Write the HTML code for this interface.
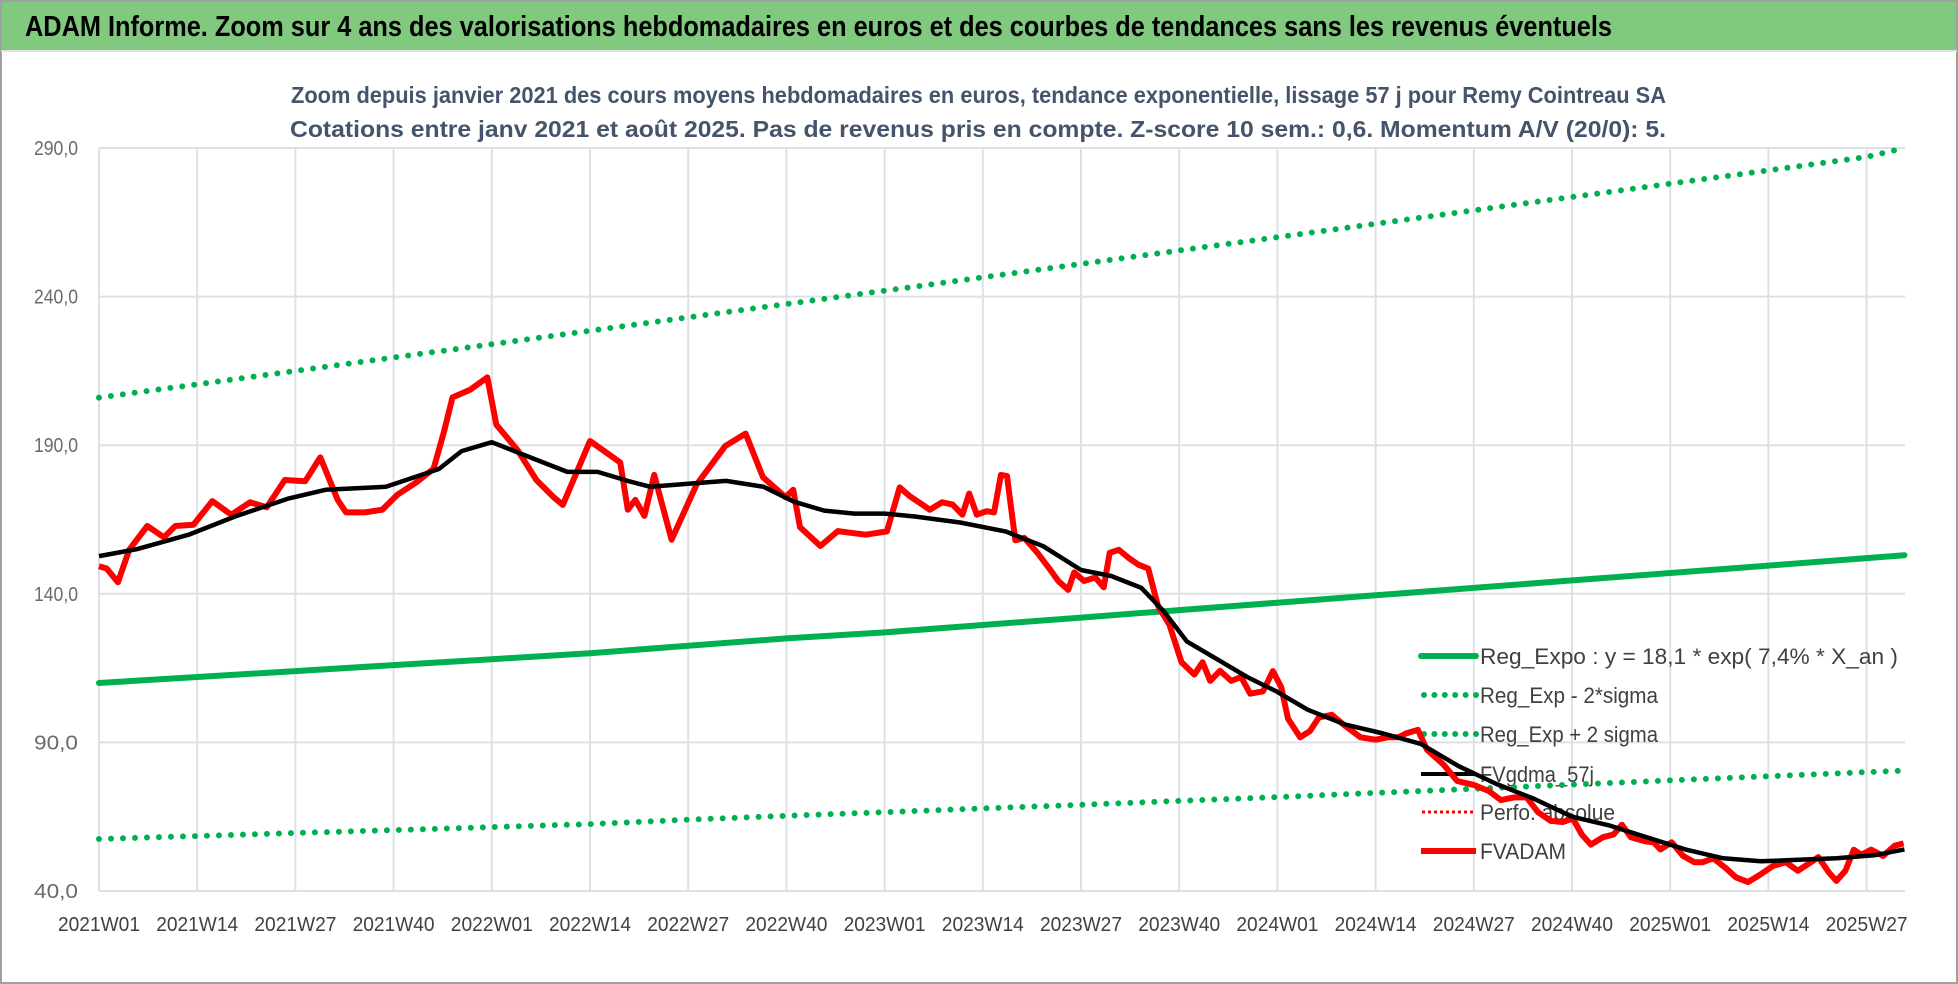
<!DOCTYPE html>
<html><head><meta charset="utf-8"><style>
html,body{margin:0;padding:0;background:#fff}
svg{display:block;font-family:"Liberation Sans Narrow","Liberation Sans",sans-serif}
</style></head><body>
<svg id="chart" width="1958" height="984" viewBox="0 0 1958 984" xmlns="http://www.w3.org/2000/svg">
<rect x="0" y="0" width="1958" height="984" fill="#fff"/>
<rect x="0" y="0" width="1958" height="50" fill="#80c97f"/>
<rect x="1" y="1" width="1956" height="982" fill="none" stroke="#a0a0a0" stroke-width="2"/>
<line x1="1" y1="51" x2="1957" y2="51" stroke="#e0e0e0" stroke-width="2"/>
<text x="25" y="36" font-size="29" font-weight="bold" fill="#000" textLength="1587" lengthAdjust="spacingAndGlyphs">ADAM Informe. Zoom sur 4 ans des valorisations hebdomadaires en euros et des courbes de tendances sans les revenus éventuels</text>
<text x="291" y="103" font-size="23" font-weight="bold" fill="#44546a" textLength="1375" lengthAdjust="spacingAndGlyphs">Zoom depuis janvier 2021 des cours moyens hebdomadaires en euros, tendance exponentielle, lissage 57 j pour Remy Cointreau SA</text>
<text x="290" y="137" font-size="23" font-weight="bold" fill="#44546a" textLength="1376" lengthAdjust="spacingAndGlyphs">Cotations entre janv 2021 et août 2025.  Pas de revenus pris en compte. Z-score 10 sem.: 0,6. Momentum A/V (20/0): 5.</text>
<g id="grid"></g>
<g id="axes"></g>
<g id="legend">
 <line x1="1421" y1="656" x2="1476" y2="656" stroke="#00b050" stroke-width="6" stroke-linecap="round"/>
 <text x="1480" y="664" font-size="22" fill="#404040" textLength="418" lengthAdjust="spacingAndGlyphs">Reg_Expo : y = 18,1 * exp( 7,4% *  X_an )</text>
 <line x1="1424" y1="695" x2="1476" y2="695" stroke="#00b050" stroke-width="6" stroke-linecap="round" stroke-dasharray="0 10.4"/>
 <text x="1480" y="703" font-size="22" fill="#404040" textLength="178" lengthAdjust="spacingAndGlyphs">Reg_Exp - 2*sigma</text>
 <line x1="1424" y1="734" x2="1476" y2="734" stroke="#00b050" stroke-width="6" stroke-linecap="round" stroke-dasharray="0 10.4"/>
 <text x="1480" y="742" font-size="22" fill="#404040" textLength="178" lengthAdjust="spacingAndGlyphs">Reg_Exp + 2 sigma</text>
 <line x1="1421" y1="774" x2="1476" y2="774" stroke="#000" stroke-width="4"/>
 <text x="1480" y="782" font-size="22" fill="#404040" textLength="114" lengthAdjust="spacingAndGlyphs">FVgdma_57j</text>
 <line x1="1422" y1="812" x2="1476" y2="812" stroke="#ff0000" stroke-width="3" stroke-dasharray="3 3"/>
 <text x="1480" y="820" font-size="22" fill="#404040" textLength="135" lengthAdjust="spacingAndGlyphs">Perfo. absolue</text>
 <line x1="1421" y1="851" x2="1476" y2="851" stroke="#ff0000" stroke-width="6"/>
 <text x="1480" y="859" font-size="22" fill="#404040" textLength="86" lengthAdjust="spacingAndGlyphs">FVADAM</text>
</g>
<g id="series"></g>
</svg>
<script>
const xLabels=["2021W01","2021W14","2021W27","2021W40","2022W01","2022W14","2022W27","2022W40","2023W01","2023W14","2023W27","2023W40","2024W01","2024W14","2024W27","2024W40","2025W01","2025W14","2025W27"];
const yTicks=[40,90,140,190,240,290];
const trendWeeks=[0,13,26,39,52,65,78,91,104,117,130,143,156,169,182,195,208,221,234,239];
const regExpo=[110,112,114,116,118,120,122.5,125,127,129.5,132,134.5,137,139.5,142,144.5,147,149.5,152,153];
const regMinus=[57.5,58.5,59.5,60.5,61.5,62.5,64,65.3,66.5,67.8,69,70.3,71.6,73,74.4,75.8,77.2,78.6,80,80.5];
const regPlus=[206,210.5,215,219.5,224,228.5,233,237.5,242,246.5,251,255.5,260,264.5,269,273.5,278,282.5,287,290];
const redWeeks=[0,1,2.5,4,6.4,8.6,10.1,12.5,15,17.5,20,22.2,24.6,27.3,29.3,31.6,32.7,35.2,37.5,39.5,42,44.3,45.7,46.8,49.1,51.4,52.6,55.4,57.9,60.2,61.4,65,69,70,71,72.2,73.5,75.8,79.1,82.9,85.6,87.9,90.9,91.9,92.8,95.5,97.8,101.5,104.3,106,107.3,110,111.6,113,114.3,115.2,116.2,117.5,118.5,119.4,120.2,121.3,122.5,124.2,125.8,127,128.3,129.1,130.4,131.9,133,133.8,135,136.4,137.6,138.9,140.2,141.7,143.3,145,146.1,147.1,148.4,149.9,151.2,152.4,154.1,155.4,156.5,157.4,159,160.3,161.5,163.2,164.8,167,169,170.6,172,173,174.6,175.8,178,179.8,182,184,185.6,187.3,189,190.5,192.2,193.8,195.1,196.3,197.5,199.1,200.5,201.6,202.8,204.6,205.8,206.7,208.2,209.7,211.2,212.3,213.7,215.4,216.7,218.3,219.9,221.6,223.3,224.9,226.4,227.6,229,230,231.2,232.3,233.3,234.6,236.2,237.7,238.9];
const redVals=[149.3,148.5,143.9,154.8,162.8,159,162.8,163.2,171.2,166.6,170.8,169.1,178.3,177.9,185.9,171.6,167.4,167.4,168.3,173.3,177.5,182.1,194.8,206.1,208.6,212.8,196.9,188.4,178.3,172.5,169.9,191.4,184.2,168.3,171.6,166.2,180,158.2,176.7,189.7,193.9,179.2,172.5,175,162.4,156.1,161.1,159.9,161,175.8,172.9,168.3,170.8,170,166.6,173.7,166.6,167.8,167.4,180,179.6,158,158.8,153.9,148.5,144.3,141.3,147.2,144.3,145.5,142.2,153.8,154.8,151.9,149.8,148.5,135.9,129.6,117,112.8,117,110.7,114.1,110.7,112,106.4,107.2,114,108.6,98,91.7,93.8,98.4,99.3,95.9,91.7,90.9,91.7,91.7,93,94.2,87.5,82.5,77,75.7,73.6,70.6,71.5,71.5,66.5,63.6,63.2,64.4,59,55.6,58.1,59,62.3,58.1,56.8,56.4,54,56.4,51.8,49.7,49.7,51,47.6,44.6,43,45.5,48.4,49.7,46.8,49.3,51.4,46.3,43.4,46.8,53.9,52.2,53.9,51.8,55.2,56];
const blackWeeks=[0,5,12,18,25,30,38,45,48,52,57,62,66,70,73,78,83,88,92,96,100,104,108,114,120,125,130,134,138,141,144,148,152,156,160,165,170,175,180,185,190,195,200,205,210,215,220,225,230,235,239];
const blackVals=[152.7,155,160,166,172,175,176,182,188,191,186,181,181,178,176,177,178,176,171,168,167,167,166,164,161,156,148,146,142,134,124,118,112,107,101,96,93,89.5,82,76,71,65,62,58,54,51,50,50.5,51,52,54];

const NS="http://www.w3.org/2000/svg";
const X0=99, PXW=98.2/13, Y0=891, PXV=148.6/50;
const xs=w=>X0+w*PXW;
const ys=v=>Y0-(v-40)*PXV;
function mk(tag,attrs,parent){const e=document.createElementNS(NS,tag);for(const k in attrs)e.setAttribute(k,attrs[k]);parent.appendChild(e);return e;}
const grid=document.getElementById('grid'), axes=document.getElementById('axes'), series=document.getElementById('series');
yTicks.forEach(v=>{
  const l=mk('line',{x1:X0,x2:1905,y1:ys(v),y2:ys(v),stroke:'#dde1e6','stroke-width':2},grid);
  
  
  const t=mk('text',{x:34,y:ys(v)+7,'font-size':20,fill:'#6b6b6b',textLength:44,lengthAdjust:'spacingAndGlyphs'},axes);
  t.textContent=v.toFixed(1).replace('.',',');
  
  
});
xLabels.forEach((s,i)=>{
  const x=xs(i*13);
  const l=mk('line',{x1:x,x2:x,y1:ys(290),y2:Y0,stroke:'#dde1e6','stroke-width':2},grid);
  
  
  const t=mk('text',{x:x-41,y:931,'font-size':20,fill:'#404040',textLength:82,lengthAdjust:'spacingAndGlyphs'},axes);
  t.textContent=s;
  
  
});
function pts(ws,vs){return ws.map((w,i)=>xs(w).toFixed(1)+','+ys(vs[i]).toFixed(1)).join(' ');}
const s1=mk('polyline',{points:pts(trendWeeks,regPlus),fill:'none',stroke:'#00b050','stroke-width':6,'stroke-linecap':'round','stroke-dasharray':'0 12'},series);


const s2=mk('polyline',{points:pts(trendWeeks,regMinus),fill:'none',stroke:'#00b050','stroke-width':6,'stroke-linecap':'round','stroke-dasharray':'0 12'},series);


const s3=mk('polyline',{points:pts(trendWeeks,regExpo),fill:'none',stroke:'#00b050','stroke-width':6,'stroke-linecap':'round'},series);


const s4=mk('polyline',{points:pts(redWeeks,redVals),fill:'none',stroke:'#ff0000','stroke-width':6,'stroke-linejoin':'round'},series);


const s5=mk('polyline',{points:pts(blackWeeks,blackVals),fill:'none',stroke:'#000','stroke-width':4.5,'stroke-linejoin':'round'},series);


</script>
</body></html>
